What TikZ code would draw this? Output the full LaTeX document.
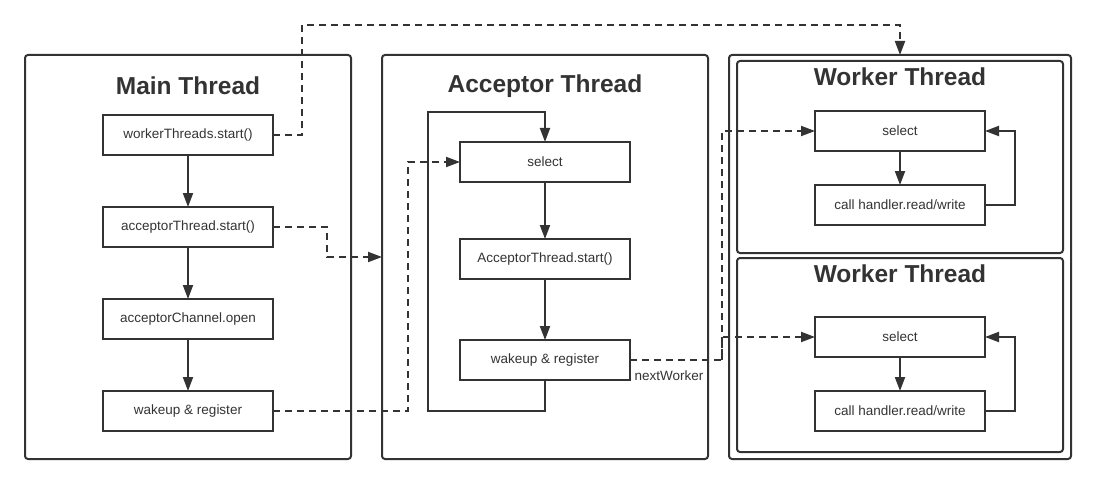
\documentclass[tikz,border=0pt]{standalone}
\usepackage{fontspec}
\setmainfont{Liberation Sans}
\usepackage{tikz}
\usetikzlibrary{arrows.meta,positioning,calc}
\definecolor{hilo}{RGB}{51,51,51}

\begin{document}
\begin{tikzpicture}[x=1pt,y=-1pt,
  every node/.style={text=hilo},
  marco/.style={draw=hilo, line width=2pt, rounded corners=3pt, inner sep=0pt, outer sep=0pt},
  caja/.style={draw=hilo, line width=2pt, inner sep=0pt, outer sep=0pt,
               minimum width=170pt, minimum height=40pt, font=\fontsize{13.5}{16}\selectfont},
  titulo/.style={font=\fontsize{24.5}{28}\selectfont\bfseries},
  flecha/.style={draw=hilo, line width=2pt, -{Triangle[length=14pt,width=10pt]}},
  rayada/.style={flecha, dash pattern=on 7pt off 5pt}]
\useasboundingbox (0,0) rectangle (1095,484);
% marcos de los hilos
\node[marco, minimum width=326pt, minimum height=404pt] (main) at (188,257) {};
\node[marco, minimum width=326pt, minimum height=404pt] (acc) at (545,257) {};
\node[marco, minimum width=342pt, minimum height=404pt] (wout) at (900,257) {};
\node[marco, minimum width=326pt, minimum height=192pt] (win1) at (900,157) {};
\node[marco, minimum width=326pt, minimum height=194pt] (win2) at (900,355) {};
\node[titulo] (tmain) at (188,86) {Main Thread};
\node[titulo] (tacc) at (545,86) {Acceptor Thread};
\node[titulo] (tw1) at (900,77) {Worker Thread};
\node[titulo] (tw2) at (900,274) {Worker Thread};
% Main Thread
\node[caja] (wts) at (188,135) {workerThreads.start()};
\node[caja] (ats) at (188,227) {acceptorThread.start()};
\node[caja] (ach) at (188,319) {acceptorChannel.open};
\node[caja] (mwr) at (188,411) {wakeup \& register};
% Acceptor Thread
\node[caja] (asel) at (545,162) {select};
\node[caja] (ast) at (545,259) {AcceptorThread.start()};
\node[caja] (awr) at (545,360) {wakeup \& register};
\node[anchor=base west, xshift=1pt, font=\fontsize{13.5}{16}\selectfont] (nxt) at (awr.south east) {nextWorker};
% Worker Threads
\node[caja] (w1sel) at (900,131) {select};
\node[caja] (w1call) at (900,205) {call handler.read/write};
\node[caja] (w2sel) at (900,337) {select};
\node[caja] (w2call) at (900,411) {call handler.read/write};

\draw[flecha] (wts) -- (ats);
\draw[flecha] (ats) -- (ach);
\draw[flecha] (ach) -- (mwr);
\draw[flecha] (asel) -- (ast);
\draw[flecha] (ast) -- (awr);
\draw[flecha] (awr.south) -- ++(0,31) -- ++(-117,0) -- ++(0,-299) -| (asel.north);
\draw[flecha] (w1sel) -- (w1call);
\draw[flecha] (w1call.east) -- ++(30,0) |- (w1sel.east);
\draw[flecha] (w2sel) -- (w2call);
\draw[flecha] (w2call.east) -- ++(30,0) |- (w2sel.east);

\draw[rayada] (wts.east) -- ++(29,0) -- ++(0,-110) -| (wout.north);
\draw[rayada] (ats.east) -- ++(54,0) |- (acc.west);
\draw[rayada] (mwr.east) -- ++(135,0) |- (asel.west);
\draw[rayada] (awr.east) -- ++(92,0) coordinate (rama) |- (w1sel.west);
\draw[rayada] (rama) |- (w2sel.west);
\end{tikzpicture}
\end{document}
